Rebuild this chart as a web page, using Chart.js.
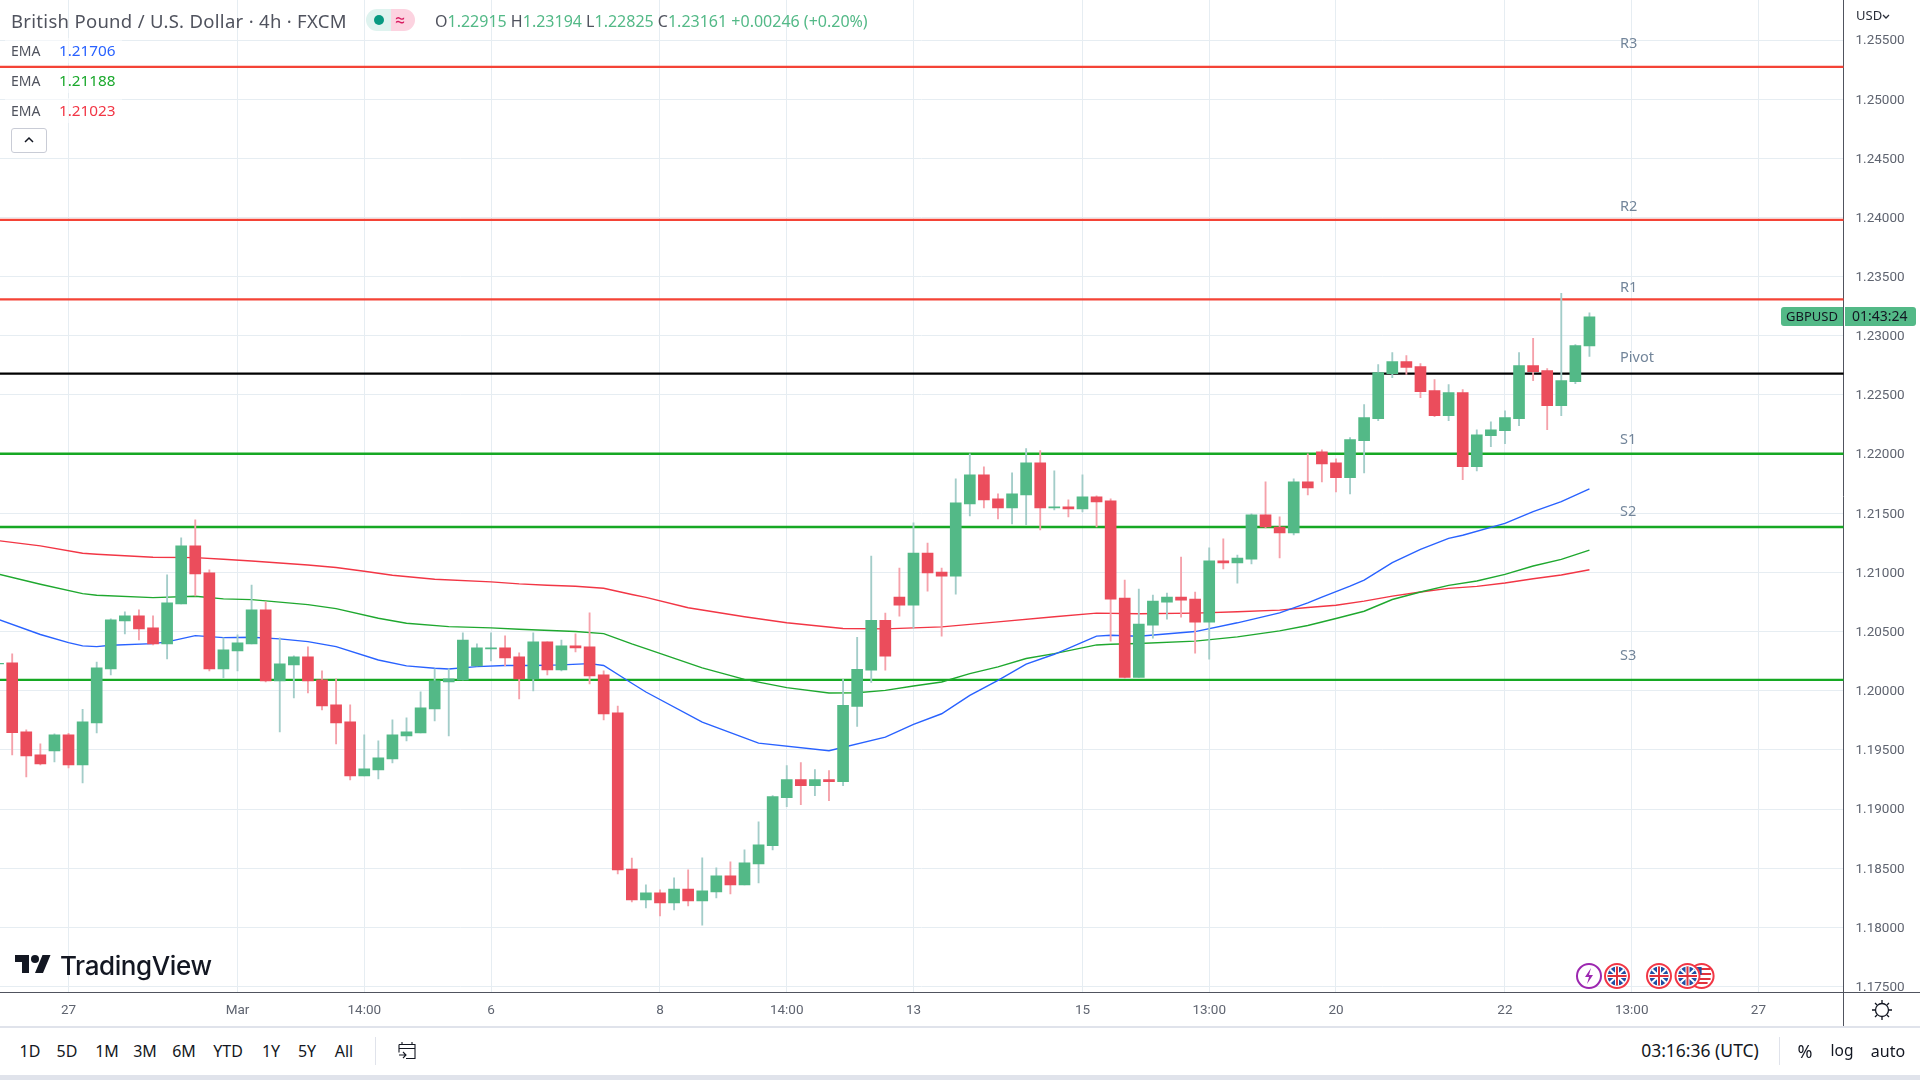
<!DOCTYPE html>
<html>
<head>
<meta charset="utf-8">
<script src="https://cdn.jsdelivr.net/npm/chart.js@4"></script>
<style>
html,body{margin:0;padding:0;width:1920px;height:1080px;background:#fff;overflow:hidden;font-family:"Noto Sans",Roboto,sans-serif;color:#131722}
#c{position:absolute;left:0;top:0}
.t{position:absolute;white-space:nowrap;line-height:1}
.bx{position:absolute}
.g{color:#53b987}
svg{position:absolute;overflow:visible}
</style>
</head>
<body>
<canvas id="c" width="1920" height="1027" style="width:1920px;height:1027px"></canvas>

<div class="bx" style="left:5px;top:38px;width:117px;height:25px;background:rgba(255,255,255,.5)"></div>
<div class="bx" style="left:5px;top:68px;width:117px;height:25px;background:rgba(255,255,255,.5)"></div>
<div class="bx" style="left:5px;top:98px;width:117px;height:25px;background:rgba(255,255,255,.5)"></div>

<div class="t" id="title" style="left:11px;top:12px;font-size:18.5px;letter-spacing:.3px;color:#50535e">British Pound / U.S. Dollar · 4h · FXCM</div>
<div class="bx" style="left:366px;top:9px;width:25px;height:22px;background:#dff3ef;border-radius:11px 0 0 11px"></div>
<div class="bx" style="left:391px;top:9px;width:24px;height:22px;background:#fcd3e0;border-radius:0 11px 11px 0"></div>
<div class="bx" style="left:374px;top:15px;width:10px;height:10px;background:#089981;border-radius:50%"></div>
<div class="t" style="left:395px;top:10px;font-size:18px;color:#d81b60">≈</div>
<div class="t" id="ohlc" style="left:435px;top:13px;font-size:16px;color:#50535e">O<span class="g">1.22915</span> H<span class="g">1.23194</span> L<span class="g">1.22825</span> C<span class="g">1.23161</span> <span class="g">+0.00246 (+0.20%)</span></div>

<div class="t" style="left:11px;top:44px;font-size:14px;color:#50535e">EMA</div><div class="t" style="left:59px;top:43px;font-size:15.3px;color:#2962ff">1.21706</div>
<div class="t" style="left:11px;top:74px;font-size:14px;color:#50535e">EMA</div><div class="t" style="left:59px;top:73px;font-size:15.3px;color:#1aa82c">1.21188</div>
<div class="t" style="left:11px;top:104px;font-size:14px;color:#50535e">EMA</div><div class="t" style="left:59px;top:103px;font-size:15.3px;color:#f23645">1.21023</div>
<div class="bx" style="left:11px;top:128px;width:34px;height:23px;border:1px solid #c9ccd6;border-radius:3px;background:#fff"></div>
<svg style="left:24px;top:136px" width="10" height="7"><path d="M1 6L5 2L9 6" fill="none" stroke="#131722" stroke-width="1.5"/></svg>

<div class="t" style="left:1856px;top:9px;font-size:13px;color:#2a2e39">USD</div>
<svg style="left:1882px;top:14px" width="8" height="5"><path d="M1 1L4 4L7 1" fill="none" stroke="#2a2e39" stroke-width="1.3"/></svg>

<div class="bx" style="left:1781px;top:307px;width:62px;height:19px;background:#53b987;border-radius:3px 0 0 3px"></div>
<div class="bx" style="left:1845px;top:307px;width:71px;height:19px;background:#53b987;border-radius:0 3px 3px 0"></div>
<div class="t" style="left:1786px;top:310px;font-size:13px;color:#131722">GBPUSD</div>
<div class="t" style="left:1852px;top:309px;font-size:14px;color:#131722">01:43:24</div>

<svg style="left:15px;top:951px" width="36" height="28" viewBox="0 0 36 28"><path d="M14 22H7V11H0V4h14v18zM28 22h-8l7.5-18h8L28 22z" fill="#131722"/><circle cx="20" cy="8" r="4" fill="#131722"/></svg>
<div class="t" id="logo" style="left:60px;top:953px;font-size:26px;font-weight:500;font-family:Inter,Roboto,sans-serif;color:#131722;letter-spacing:-.4px">TradingView</div>

<svg style="left:1575px;top:962px" width="140" height="28" id="ev"></svg>

<div class="bx" style="left:1843px;top:992px;width:77px;height:34px;background:#fff"></div>
<div class="bx" style="left:1843px;top:992px;width:77px;height:1px;background:#50535e"></div>
<div class="bx" style="left:1843px;top:992px;width:1px;height:34px;background:#50535e"></div>
<svg style="left:1871px;top:999px" width="22" height="22" viewBox="0 0 22 22"><circle cx="11" cy="11" r="6.5" fill="none" stroke="#131722" stroke-width="1.3"/><path d="M11 1v3M11 18v3M1 11h3M18 11h3M4 4l2 2M16 16l2 2M18 4l-2 2M6 16l-2 2" stroke="#131722" stroke-width="1.3"/></svg>

<div class="bx" style="left:0;top:1026px;width:1920px;height:2px;background:#e0e3eb"></div>
<div class="bx" style="left:0;top:1075px;width:1920px;height:5px;background:#e0e3eb"></div>

<div id="bar"></div>
<div class="bx" style="left:375px;top:1037px;width:1px;height:28px;background:#e0e3eb"></div>
<svg style="left:397px;top:1041px" width="20" height="20" viewBox="0 0 20 20"><path d="M5 1v3M15 1v3M2 3.5h16v14H9M2 7.5h16M2 3.5v8M2 14h7M6 11l3 3-3 3" fill="none" stroke="#131722" stroke-width="1.1"/></svg>
<div class="bx" style="left:1779px;top:1037px;width:1px;height:28px;background:#e0e3eb"></div>

<script>
// ---------- data ----------
const firstCandle = -1;
const opens = [1.20227,1.20235,1.19652,1.19457,1.19491,1.19626,1.19373,1.19728,1.20184,1.20590,1.20632,1.20531,1.20396,1.20734,1.21224,1.20996,1.20184,1.20336,1.20396,1.20683,1.20083,1.20218,1.20286,1.20091,1.19880,1.19736,1.19280,1.19330,1.19423,1.19618,1.19643,1.19846,1.20074,1.20091,1.20210,1.20353,1.20362,1.20286,1.20100,1.20413,1.20176,1.20379,1.20370,1.20134,1.19812,1.18493,1.18231,1.18291,1.18206,1.18324,1.18223,1.18299,1.18435,1.18358,1.18536,1.18689,1.19096,1.19248,1.19197,1.19248,1.19231,1.19868,1.20173,1.20596,1.20791,1.20724,1.21164,1.21003,1.20969,1.21580,1.21825,1.21622,1.21546,1.21656,1.21927,1.21546,1.21554,1.21537,1.21639,1.21605,1.20783,1.20113,1.20554,1.20749,1.20791,1.20774,1.20580,1.21097,1.21080,1.21113,1.21486,1.21384,1.21334,1.21766,1.22020,1.21927,1.21800,1.22113,1.22300,1.22681,1.22783,1.22740,1.22537,1.22325,1.22520,1.21893,1.22156,1.22198,1.22300,1.22749,1.22706,1.22410,1.22613,1.22915];
const highs = [1.20240,1.20311,1.19669,1.19550,1.19635,1.19640,1.19843,1.20243,1.20607,1.20666,1.20683,1.20632,1.20979,1.21292,1.21444,1.21021,1.20446,1.20472,1.20894,1.20751,1.20446,1.20294,1.20370,1.20167,1.20100,1.19880,1.19626,1.19576,1.19753,1.19770,1.19990,1.20184,1.20184,1.20489,1.20396,1.20489,1.20463,1.20320,1.20489,1.20413,1.20429,1.20480,1.20658,1.20167,1.19871,1.18586,1.18358,1.18316,1.18418,1.18485,1.18587,1.18502,1.18553,1.18655,1.18892,1.19113,1.19367,1.19392,1.19333,1.19325,1.20096,1.20452,1.21139,1.20656,1.21037,1.21419,1.21249,1.21037,1.21791,1.22003,1.21893,1.21664,1.21842,1.22046,1.22029,1.21859,1.21613,1.21825,1.21647,1.21622,1.20935,1.20859,1.20808,1.20825,1.21130,1.20834,1.21207,1.21283,1.21147,1.21495,1.21766,1.21469,1.21791,1.22003,1.22037,1.21961,1.22139,1.22418,1.22757,1.22859,1.22834,1.22766,1.22630,1.22588,1.22545,1.22206,1.22274,1.22367,1.22859,1.22978,1.22723,1.23359,1.22927,1.23194];
const lows = [1.20220,1.19457,1.19271,1.19373,1.19398,1.19347,1.19221,1.19643,1.20134,1.20480,1.20429,1.20387,1.20269,1.20734,1.20801,1.20167,1.20108,1.20167,1.20396,1.20074,1.19652,1.19939,1.19981,1.19838,1.19550,1.19246,1.19280,1.19254,1.19390,1.19576,1.19643,1.19745,1.19618,1.20091,1.20210,1.20252,1.20210,1.19931,1.19998,1.20134,1.20167,1.20328,1.20057,1.19753,1.18451,1.18214,1.18163,1.18096,1.18146,1.18180,1.18019,1.18248,1.18282,1.18358,1.18375,1.18655,1.19019,1.19036,1.19113,1.19070,1.19197,1.19698,1.20071,1.20173,1.20630,1.20529,1.20842,1.20461,1.20817,1.21478,1.21546,1.21452,1.21410,1.21402,1.21359,1.21529,1.21469,1.21512,1.21385,1.20419,1.20105,1.20113,1.20444,1.20605,1.20622,1.20317,1.20266,1.21029,1.20910,1.21071,1.21376,1.21122,1.21317,1.21656,1.21766,1.21681,1.21664,1.21842,1.22283,1.22647,1.22673,1.22478,1.22317,1.22283,1.21783,1.21859,1.22062,1.22088,1.22240,1.22622,1.22206,1.22325,1.22596,1.22825];
const closes = [1.20232,1.19646,1.19449,1.19381,1.19626,1.19373,1.19736,1.20193,1.20599,1.20632,1.20522,1.20396,1.20742,1.21224,1.20987,1.20184,1.20345,1.20404,1.20683,1.20083,1.20227,1.20286,1.20083,1.19871,1.19728,1.19280,1.19339,1.19432,1.19626,1.19652,1.19855,1.20083,1.20100,1.20429,1.20362,1.20362,1.20277,1.20100,1.20413,1.20176,1.20379,1.20362,1.20125,1.19804,1.18485,1.18231,1.18291,1.18206,1.18324,1.18223,1.18308,1.18435,1.18358,1.18545,1.18697,1.19104,1.19248,1.19197,1.19248,1.19231,1.19876,1.20181,1.20596,1.20291,1.20724,1.21164,1.20995,1.20969,1.21588,1.21825,1.21613,1.21546,1.21664,1.21927,1.21546,1.21554,1.21537,1.21639,1.21597,1.20774,1.20113,1.20563,1.20758,1.20791,1.20766,1.20580,1.21097,1.21080,1.21122,1.21486,1.21385,1.21334,1.21766,1.21715,1.21918,1.21800,1.22122,1.22308,1.22690,1.22783,1.22732,1.22529,1.22325,1.22520,1.21893,1.22164,1.22206,1.22308,1.22749,1.22698,1.22410,1.22622,1.22918,1.23161];

const emaBlueAt = [-1,2,4,5,6,7,10,11,13,15,17,19,21,23,26,28,30,31,33,35,37,39,41,42,44,45,49,53,58,62,64,66,68,70,72,74,77,78,80,84,87,90,92,93,95,96,98,100,102,103,106,108,110,112];
const emaBlue = [1.20604,1.20475,1.20407,1.20379,1.20373,1.20384,1.20398,1.20413,1.20466,1.20449,1.20452,1.20438,1.20415,1.20373,1.20260,1.20210,1.20190,1.20184,1.20204,1.20213,1.20213,1.20218,1.20229,1.20213,1.20063,1.19989,1.19735,1.19557,1.19492,1.19608,1.19715,1.19805,1.19961,1.20088,1.20224,1.20308,1.20461,1.20469,1.20461,1.20500,1.20574,1.20658,1.20743,1.20791,1.20884,1.20935,1.21082,1.21195,1.21288,1.21314,1.21415,1.21514,1.21599,1.21706];
const emaGreenAt = [-1,2,5,6,10,13,15,17,21,23,26,28,31,34,36,40,42,44,45,49,52,55,58,60,62,64,66,68,70,72,74,77,78,80,84,87,90,92,94,96,98,100,102,104,106,108,110,112];
const emaGreen = [1.20987,1.20900,1.20821,1.20807,1.20787,1.20799,1.20776,1.20770,1.20728,1.20694,1.20613,1.20570,1.20542,1.20531,1.20520,1.20500,1.20483,1.20396,1.20356,1.20193,1.20096,1.20026,1.19981,1.19983,1.20003,1.20040,1.20074,1.20144,1.20201,1.20272,1.20314,1.20387,1.20393,1.20399,1.20419,1.20455,1.20506,1.20551,1.20610,1.20672,1.20771,1.20834,1.20890,1.20927,1.20983,1.21054,1.21110,1.21188];
const emaRedAt = [-1,2,5,6,10,13,15,17,21,23,25,27,30,34,36,38,40,42,44,45,48,52,55,59,62,66,70,74,77,80,84,87,90,92,94,96,98,100,102,104,106,108,110,112];
const emaRed = [1.21269,1.21224,1.21162,1.21154,1.21128,1.21125,1.21111,1.21097,1.21063,1.21041,1.21010,1.20976,1.20942,1.20920,1.20903,1.20892,1.20883,1.20866,1.20813,1.20789,1.20701,1.20625,1.20574,1.20526,1.20523,1.20540,1.20582,1.20625,1.20656,1.20650,1.20656,1.20667,1.20681,1.20704,1.20723,1.20757,1.20800,1.20834,1.20865,1.20882,1.20910,1.20947,1.20978,1.21023];

const levelNames = ["R3","R2","R1","Pivot","S1","S2","S3"];
const levelValues = [1.25274,1.23980,1.23308,1.22681,1.22003,1.21384,1.20091];
const levelLift = [23,13,12,16,14,15,24];

const yTickValues = [1.175,1.18,1.185,1.19,1.195,1.2,1.205,1.21,1.215,1.22,1.225,1.23,1.235,1.24,1.245,1.25,1.255];
const xTickAt = [4,16,25,34,46,55,64,76,85,94,106,115,124];
const xTickLabels = ["27","Mar","14:00","6","8","14:00","13","15","13:00","20","22","13:00","27"];
const rangeButtons = ["1D","5D","1M","3M","6M","YTD","1Y","5Y","All"];
const rangeCentres = [30,67,107,145,184,228,271,307,344];

// ---------- styles ----------
const UP="#53b987", DOWN="#eb4d5c", UPW="#a3cdc9", DOWNW="#f5a1aa";
const GRID="#e6edf2", AXIS="#50535e", LABEL="#5f6470";
const FONT='"Noto Sans",Roboto,sans-serif';
const AXISFONT='Roboto,"Noto Sans",sans-serif';
const levelColor = n => n[0]==="R" ? "#f44336" : n[0]==="S" ? "#16a823" : "#000000";

const pts = (xs,ys)=>xs.map((x,i)=>({x,y:ys[i]}));
const bodies = opens.map((o,i)=>({x:firstCandle+i,y:[o,closes[i]]}));
const wicks = lows.map((l,i)=>({x:firstCandle+i,y:[l,highs[i]]}));
const isUp = i => closes[i]>=opens[i];
const noPad = s => {s.paddingTop=0;s.paddingBottom=0;s.paddingLeft=0;s.paddingRight=0;};

const datasets = [];
levelNames.forEach((n,k)=>datasets.push({type:"line",label:n,data:[{x:-5,y:levelValues[k]},{x:135,y:levelValues[k]}],
  borderColor:levelColor(n),borderWidth:2.3,pointRadius:0,order:5}));
[["EMA 1",emaBlueAt,emaBlue,"#2962ff"],["EMA 2",emaGreenAt,emaGreen,"#1fa82f"],["EMA 3",emaRedAt,emaRed,"#f23645"]].forEach(([l,a,v,c])=>
  datasets.push({type:"line",label:l,data:pts(a,v),borderColor:c,borderWidth:1.4,pointRadius:0,tension:0,order:4}));
datasets.push({type:"bar",label:"Wick",data:wicks,grouped:false,barThickness:1.2,backgroundColor:ctx=>isUp(ctx.dataIndex)?UPW:DOWNW,order:3});
datasets.push({type:"bar",label:"Body",data:bodies,grouped:false,barThickness:11,backgroundColor:ctx=>isUp(ctx.dataIndex)?UP:DOWN,order:2});

const levelLabelPlugin = {id:"levelLabels",afterDatasetsDraw(chart){
  const c=chart.ctx,y=chart.scales.y;
  c.save();c.font='14.5px '+FONT;c.fillStyle="#72859a";c.textAlign="left";c.textBaseline="middle";
  levelNames.forEach((n,k)=>c.fillText(n,1620,y.getPixelForValue(levelValues[k])-levelLift[k]));
  c.restore();
}};

new Chart(document.getElementById("c"),{
  type:"bar",
  data:{datasets},
  plugins:[levelLabelPlugin],
  options:{
    responsive:false,animation:false,devicePixelRatio:1,
    layout:{padding:0,autoPadding:false},
    plugins:{legend:{display:false},tooltip:{enabled:false},title:{display:false}},
    scales:{
      x:{type:"linear",min:-0.866,max:130.04,offset:false,bounds:"data",
        grid:{color:GRID,lineWidth:1,offset:false,drawTicks:false},
        border:{display:true,color:AXIS,width:1},
        afterBuildTicks(s){s.ticks=xTickAt.map(v=>({value:v}));},
        afterFit(s){s.height=35;noPad(s);},
        ticks:{autoSkip:false,maxRotation:0,minRotation:0,padding:11,color:LABEL,font:{family:AXISFONT,size:13.5},
          callback:v=>xTickLabels[xTickAt.indexOf(v)]}},
      y:{type:"linear",position:"right",min:1.17453,max:1.25839,offset:false,bounds:"data",beginAtZero:false,
        grid:{color:GRID,lineWidth:1,drawTicks:false},
        border:{display:true,color:AXIS,width:1},
        afterBuildTicks(s){s.ticks=yTickValues.map(v=>({value:v}));},
        afterFit(s){s.width=76.5;noPad(s);},
        ticks:{autoSkip:false,padding:12,labelOffset:1,color:LABEL,font:{family:AXISFONT,size:13.5},
          callback:v=>v.toFixed(5)}}
    }
  }
});

// ---------- bottom toolbar ----------
const bar=document.getElementById("bar");
const put=(t,x,size)=>{const d=document.createElement("div");d.className="t";d.textContent=t;
  d.style.cssText=`left:${x}px;top:${1051-size/2}px;font-size:${size}px;transform:translateX(-50%);color:#131722`;bar.appendChild(d);};
rangeButtons.forEach((t,i)=>put(t,rangeCentres[i],16));
[["03:16:36 (UTC)",1700,17.5],["%",1805,18],["log",1842,15.5],["auto",1888,16]].forEach(a=>put(...a));

// ---------- event markers ----------
const uk=(cx)=>`<circle cx="${cx}" cy="14" r="12" fill="#fff" stroke="#f23645" stroke-width="2"/><circle cx="${cx}" cy="14" r="9.5" fill="#1f4fa3"/><path d="M${cx-7} 7.5L${cx+7} 20.5M${cx+7} 7.5L${cx-7} 20.5" stroke="#fff" stroke-width="2"/><path d="M${cx} 4.5V23.5M${cx-9.5} 14H${cx+9.5}" stroke="#fff" stroke-width="4"/><path d="M${cx} 4.5V23.5M${cx-9.5} 14H${cx+9.5}" stroke="#e0323c" stroke-width="2"/>`;
const us=(cx)=>`<circle cx="${cx}" cy="14" r="12" fill="#fff" stroke="#f23645" stroke-width="2"/><path d="M${cx-6} 7H${cx+9}M${cx-6} 12H${cx+9.5}M${cx-8} 17H${cx+9}M${cx-6} 21H${cx+6}" stroke="#e0323c" stroke-width="2"/><rect x="${cx-9}" y="5" width="9" height="8" fill="#1f4fa3"/>`;
document.getElementById("ev").innerHTML=
  `<circle cx="14" cy="14" r="12" fill="#fff" stroke="#9c27b0" stroke-width="2"/><path d="M16 6L10 15h4l-2 7 6-9h-4z" fill="#9c27b0"/>`
  +uk(42)+us(126.6)+uk(84)+uk(112.5);
</script>
</body>
</html>
